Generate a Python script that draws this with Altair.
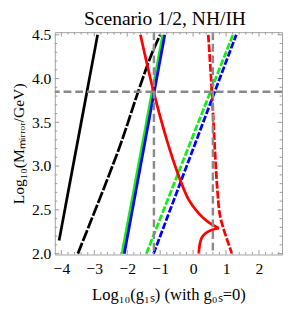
import altair as alt
import pandas as pd

# ---- data (x = log10 g1s, y = log10 M) ----
black_solid_x = [-4.07, -2.9]
black_solid_y = [2.15, 4.5]
black_dash_x = [-3.5, -2.26, -1.66, -1.27, -1.0]
black_dash_y = [2.0, 3.19, 3.86, 4.27, 4.5]
green_solid_x = [-2.16, -0.92]
green_solid_y = [2.0, 4.5]
blue_solid_x = [-2.09, -0.86]
blue_solid_y = [2.0, 4.5]
green_dash_x = [-1.42, 1.21]
green_dash_y = [2.0, 4.5]
blue_dash_x = [-1.2, 1.31]
blue_dash_y = [2.0, 4.5]
red_solid_x = [-1.6, -1.2, -0.8, -0.44, -0.14, 0.17, 0.46, 0.78]
red_solid_y = [4.5, 3.85, 3.3, 2.89, 2.62, 2.46, 2.36, 2.29]
red_low_x = [0.17, 0.2, 0.26, 0.37, 0.56, 0.78]
red_low_y = [2.0, 2.1, 2.18, 2.23, 2.27, 2.29]
red_dash_x = [0.46, 0.57, 0.66, 0.74, 0.81, 0.91, 1.18]
red_dash_y = [4.5, 3.85, 3.19, 2.71, 2.45, 2.30, 2.0]

h_ref = [3.85]
v_ref = [-1.19, 0.6]

title_text = "Scenario 1/2, NH/IH"
x_major = [-4, -3, -2, -1, 0, 1, 2]
y_major = [2.0, 2.5, 3.0, 3.5, 4.0, 4.5]
x_minor = [round(-4.2 + 0.2 * i, 2) for i in range(35)]
x_minor = [v for v in x_minor if abs(v - round(v)) > 1e-6 and -4.2 < v < 2.7]
y_minor = [round(2.0 + 0.1 * i, 2) for i in range(26)]
y_minor = [v for v in y_minor if abs(v * 2 - round(v * 2)) > 1e-6]

W, H = 233, 228
FONT = "Liberation Serif"

series = {
    "black_solid": (black_solid_x, black_solid_y),
    "black_dash": (black_dash_x, black_dash_y),
    "green_solid": (green_solid_x, green_solid_y),
    "blue_solid": (blue_solid_x, blue_solid_y),
    "green_dash": (green_dash_x, green_dash_y),
    "blue_dash": (blue_dash_x, blue_dash_y),
    "red_solid": (red_solid_x, red_solid_y),
    "red_low": (red_low_x, red_low_y),
    "red_dash": (red_dash_x, red_dash_y),
}
rows = []
for name, (xs, ys) in series.items():
    for i, (a, b) in enumerate(zip(xs, ys)):
        rows.append({"s": name, "i": i, "x": a, "y": b})
df = pd.DataFrame(rows)

xscale = alt.Scale(domain=[-4.2, 2.7], nice=False, zero=False)
yscale = alt.Scale(domain=[1.99, 4.53], nice=False, zero=False)
xaxis = alt.Axis(values=x_major, format="d", ticks=False, domain=False, grid=False,
                 labelFont=FONT, labelFontSize=16, labelColor="black", labelPadding=7,
                 title="Log₁₀(g₁ₛ) (with g₀ₛ=0)", titleFont=FONT, titleFontSize=17,
                 titleFontWeight="normal", titleColor="black", titlePadding=10)
yaxis = alt.Axis(values=y_major, format=".1f", ticks=False, domain=False, grid=False,
                 labelFont=FONT, labelFontSize=16, labelColor="black", labelPadding=4,
                 title="Log₁₀(Mₘᵢᵣᵣₒᵣ/GeV)", titleFont=FONT, titleFontSize=16,
                 titleFontWeight="normal", titleColor="black", titlePadding=5)
X = alt.X("x:Q", scale=xscale, axis=xaxis)
Y = alt.Y("y:Q", scale=yscale, axis=yaxis)

styles = [
    ("black_solid", "black", None),
    ("black_dash", "black", [12, 2]),
    ("green_solid", "#11ee11", None),
    ("blue_solid", "#0000ff", None),
    ("green_dash", "#11ee11", [7, 2]),
    ("blue_dash", "#0000ff", [7, 2]),
    ("red_solid", "#ff0000", None),
    ("red_low", "#ff0000", None),
    ("red_dash", "#ff0000", [8, 2]),
]
layers = []
for name, col, dash in styles:
    kw = dict(color=col, strokeWidth=2.8, clip=True, interpolate="catmull-rom")
    if dash:
        kw["strokeDash"] = dash
    layers.append(
        alt.Chart(df).transform_filter(alt.datum.s == name)
        .mark_line(**kw).encode(x=X, y=Y, order="i:Q")
    )

gray = "#8a8a8a"
layers.append(alt.Chart(pd.DataFrame({"y": h_ref})).mark_rule(
    color=gray, strokeWidth=2.5, strokeDash=[8, 4]).encode(y=Y))
layers.append(alt.Chart(pd.DataFrame({"x": v_ref})).mark_rule(
    color=gray, strokeWidth=2.5, strokeDash=[8, 4]).encode(x=X))

tick_col = "#999999"
def xticks(vals, L):
    d = pd.DataFrame({"x": vals})
    top = alt.Chart(d).mark_rule(color=tick_col, strokeWidth=1).encode(
        x=X, y=alt.value(0), y2=alt.value(L))
    bot = alt.Chart(d).mark_rule(color=tick_col, strokeWidth=1).encode(
        x=X, y=alt.value(H), y2=alt.value(H - L))
    return [top, bot]
def yticks(vals, L):
    d = pd.DataFrame({"y": vals})
    left = alt.Chart(d).mark_rule(color=tick_col, strokeWidth=1).encode(
        y=Y, x=alt.value(0), x2=alt.value(L))
    right = alt.Chart(d).mark_rule(color=tick_col, strokeWidth=1).encode(
        y=Y, x=alt.value(W), x2=alt.value(W - L))
    return [left, right]

layers += xticks(x_major, 4.5) + xticks(x_minor, 2.5) + yticks(y_major, 4.5) + yticks(y_minor, 2.5)

title_layer = alt.Chart(pd.DataFrame({"t": [title_text]})).mark_text(
    font=FONT, fontSize=20, color="black", align="center", baseline="alphabetic"
).encode(text="t:N", x=alt.value(113), y=alt.value(-7))
layers.append(title_layer)

chart = alt.layer(*layers).properties(
    width=W, height=H,
    autosize=alt.AutoSizeParams(type="none"),
    padding={"left": 48, "top": 21, "right": 1, "bottom": 48},
).configure_view(stroke="#a0a0a0", strokeWidth=1)

chart.save("out.html", embed_options={"renderer": "svg", "actions": False})
